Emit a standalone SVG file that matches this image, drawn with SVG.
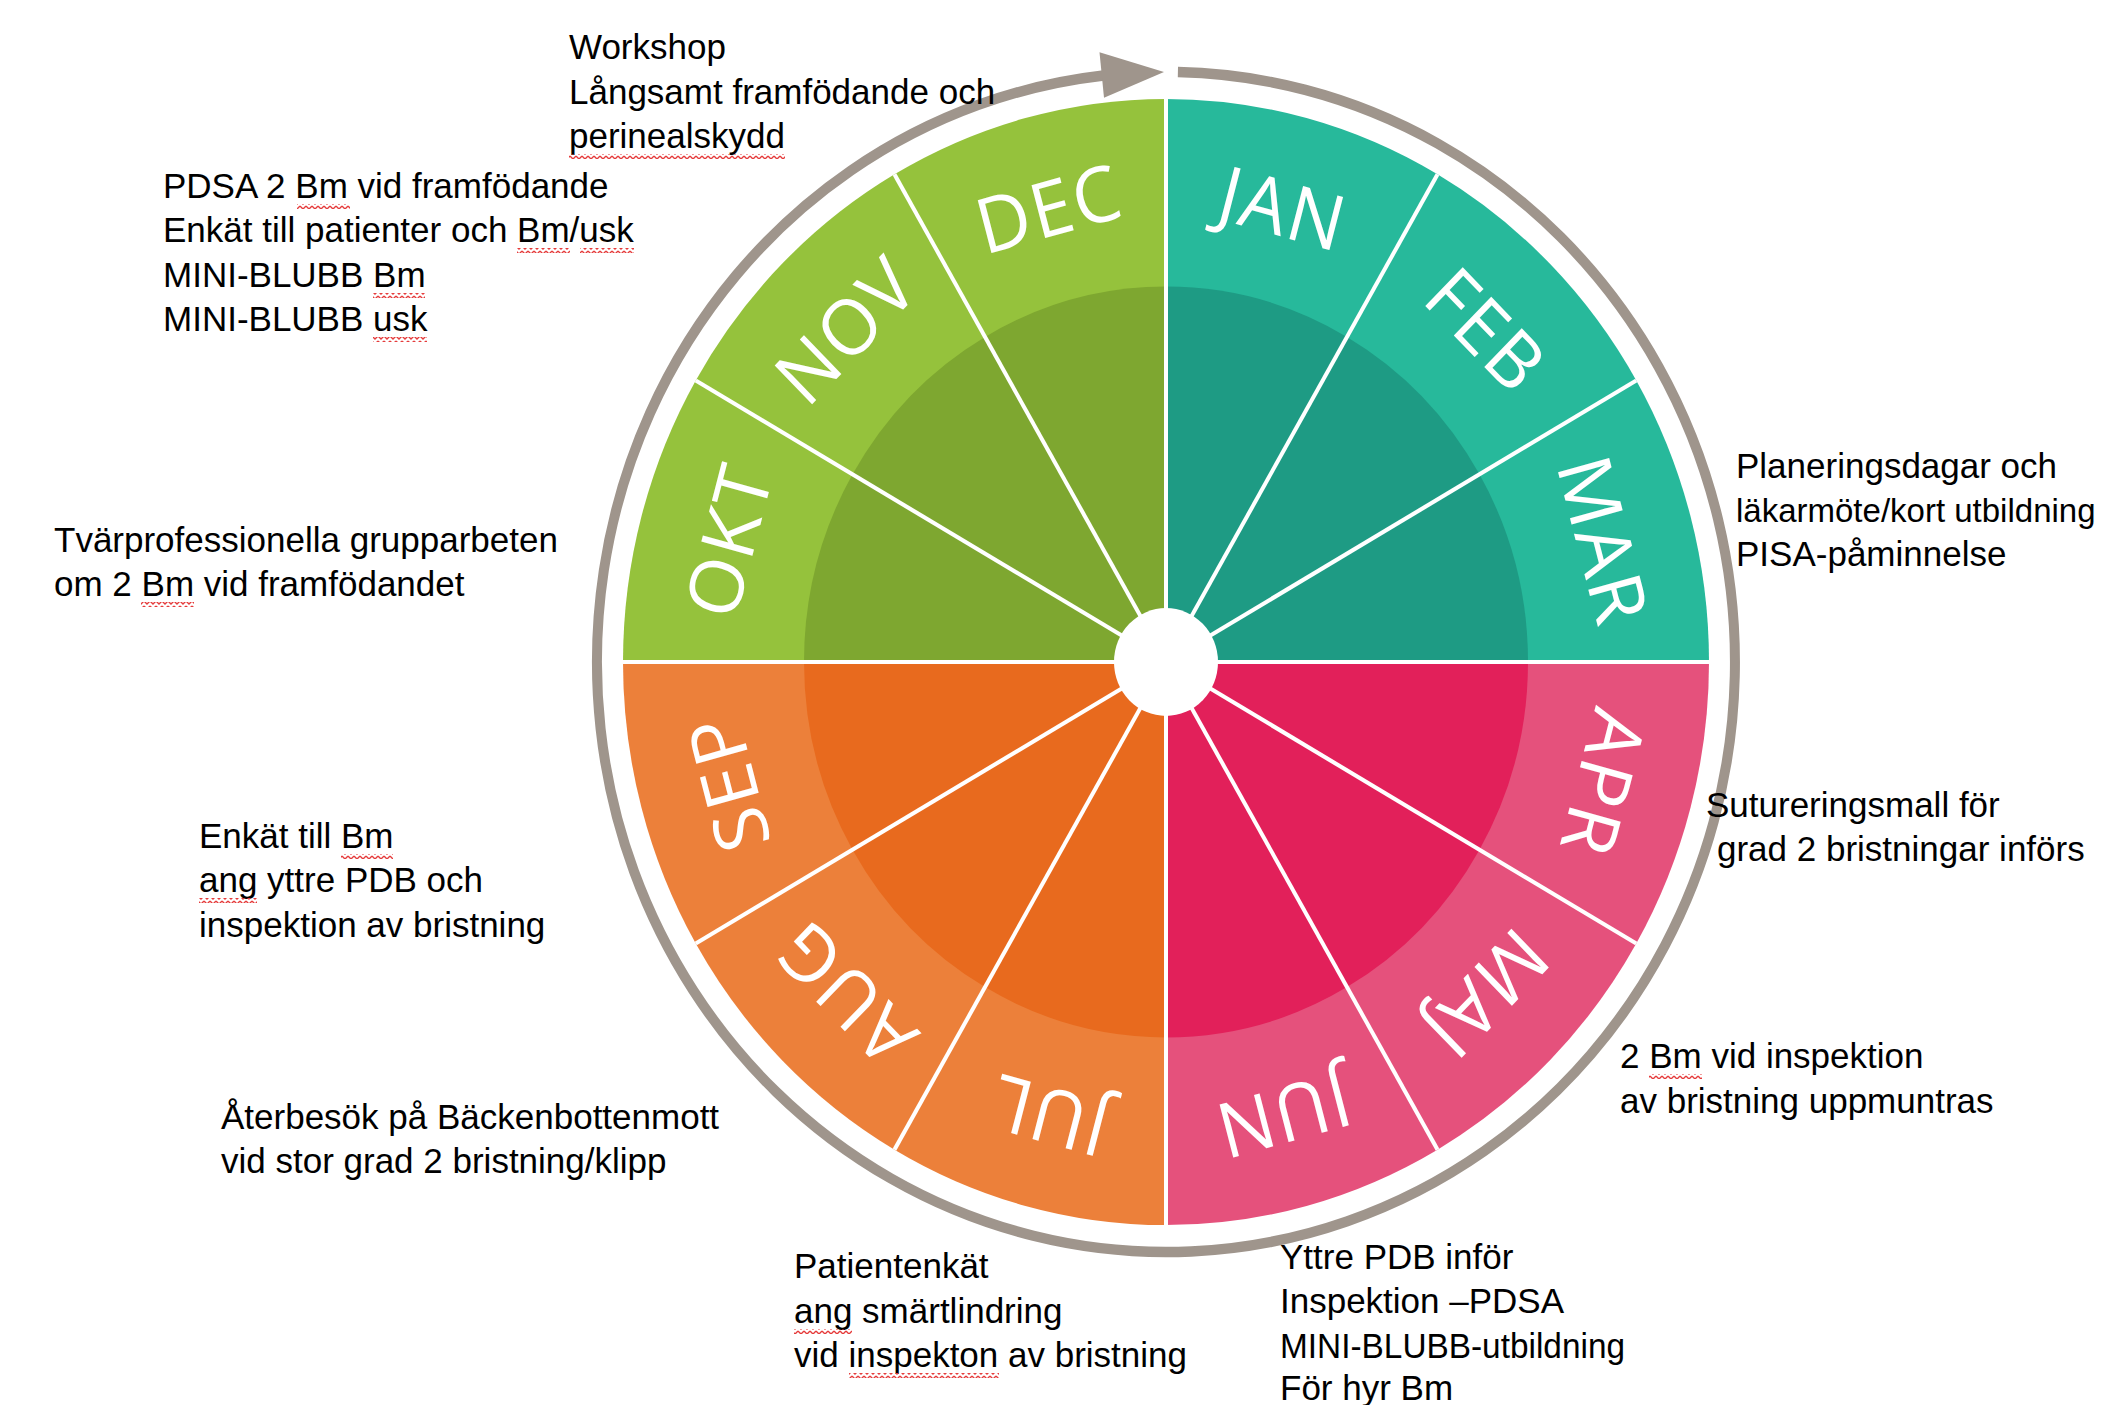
<svg xmlns="http://www.w3.org/2000/svg" width="2110" height="1405" viewBox="0 0 2110 1405">
<style>
.t{font-family:"Liberation Sans",Arial,sans-serif;font-size:35px;fill:#000}
.m{font-family:"Open Sans","Liberation Sans",sans-serif;font-size:74px;fill:#fff;text-anchor:middle;letter-spacing:2px}
.g1{fill:#95c23c}.g2{fill:#7ea730}
.t1{fill:#27b99b}.t2{fill:#1e9b84}
.p1{fill:#e5517c}.p2{fill:#e2205a}
.o1{fill:#ec803a}.o2{fill:#e86a1e}
.div{stroke:#fff;stroke-width:4;fill:none}
.ring{fill:none;stroke:#9f958c;stroke-width:10}
.sq{fill:url(#wavy)}
</style>
<defs>
<pattern id="wavy" width="6" height="5" patternUnits="userSpaceOnUse"><path d="M0,1 L3,4 L6,1" fill="none" stroke="#e53b3b" stroke-width="1.3"/></pattern>
</defs>
<rect width="2110" height="1405" fill="#fff"/>
<g id="wheel" transform="translate(1166,662) scale(1,1.037)">
<g id="jan"><path class="t1" d="M0,0 L0,-543 A543,543 0 0 1 271.5,-470.25 Z"/><path class="t2" d="M0,0 L0,-362 A362,362 0 0 1 181,-313.5 Z"/></g>
<g id="feb"><path class="t1" d="M0,0 L271.5,-470.25 A543,543 0 0 1 470.25,-271.5 Z"/><path class="t2" d="M0,0 L181,-313.5 A362,362 0 0 1 313.5,-181 Z"/></g>
<g id="mar"><path class="t1" d="M0,0 L470.25,-271.5 A543,543 0 0 1 543,0 Z"/><path class="t2" d="M0,0 L313.5,-181 A362,362 0 0 1 362,0 Z"/></g>
<g id="apr"><path class="p1" d="M0,0 L543,0 A543,543 0 0 1 470.25,271.5 Z"/><path class="p2" d="M0,0 L362,0 A362,362 0 0 1 313.5,181 Z"/></g>
<g id="maj"><path class="p1" d="M0,0 L470.25,271.5 A543,543 0 0 1 271.5,470.25 Z"/><path class="p2" d="M0,0 L313.5,181 A362,362 0 0 1 181,313.5 Z"/></g>
<g id="jun"><path class="p1" d="M0,0 L271.5,470.25 A543,543 0 0 1 0,543 Z"/><path class="p2" d="M0,0 L181,313.5 A362,362 0 0 1 0,362 Z"/></g>
<g id="jul"><path class="o1" d="M0,0 L0,543 A543,543 0 0 1 -271.5,470.25 Z"/><path class="o2" d="M0,0 L0,362 A362,362 0 0 1 -181,313.5 Z"/></g>
<g id="aug"><path class="o1" d="M0,0 L-271.5,470.25 A543,543 0 0 1 -470.25,271.5 Z"/><path class="o2" d="M0,0 L-181,313.5 A362,362 0 0 1 -313.5,181 Z"/></g>
<g id="sep"><path class="o1" d="M0,0 L-470.25,271.5 A543,543 0 0 1 -543,0 Z"/><path class="o2" d="M0,0 L-313.5,181 A362,362 0 0 1 -362,0 Z"/></g>
<g id="okt"><path class="g1" d="M0,0 L-543,0 A543,543 0 0 1 -470.25,-271.5 Z"/><path class="g2" d="M0,0 L-362,0 A362,362 0 0 1 -313.5,-181 Z"/></g>
<g id="nov"><path class="g1" d="M0,0 L-470.25,-271.5 A543,543 0 0 1 -271.5,-470.25 Z"/><path class="g2" d="M0,0 L-313.5,-181 A362,362 0 0 1 -181,-313.5 Z"/></g>
<g id="dec"><path class="g1" d="M0,0 L-271.5,-470.25 A543,543 0 0 1 0,-543 Z"/><path class="g2" d="M0,0 L-181,-313.5 A362,362 0 0 1 0,-362 Z"/></g>
<g id="dividers" class="div">
<line x1="0" y1="0" x2="0" y2="-543"/><line x1="0" y1="0" x2="271.5" y2="-470.25"/><line x1="0" y1="0" x2="470.25" y2="-271.5"/>
<line x1="0" y1="0" x2="543" y2="0"/><line x1="0" y1="0" x2="470.25" y2="271.5"/><line x1="0" y1="0" x2="271.5" y2="470.25"/>
<line x1="0" y1="0" x2="0" y2="543"/><line x1="0" y1="0" x2="-271.5" y2="470.25"/><line x1="0" y1="0" x2="-470.25" y2="271.5"/>
<line x1="0" y1="0" x2="-543" y2="0"/><line x1="0" y1="0" x2="-470.25" y2="-271.5"/><line x1="0" y1="0" x2="-271.5" y2="-470.25"/>
</g>
<circle id="hub" r="52" fill="#fff"/>
<g id="month-labels">
<text class="m" dy="0.35em" transform="rotate(15) translate(0,-452)">JAN</text>
<text class="m" dy="0.35em" transform="rotate(45) translate(0,-452)">FEB</text>
<text class="m" dy="0.35em" transform="rotate(75) translate(0,-452)">MAR</text>
<text class="m" dy="0.35em" transform="rotate(105) translate(0,-452)">APR</text>
<text class="m" dy="0.35em" transform="rotate(135) translate(0,-452)">MAJ</text>
<text class="m" dy="0.35em" transform="rotate(165) translate(0,-452)">JUN</text>
<text class="m" dy="0.35em" transform="rotate(195) translate(0,-452)">JUL</text>
<text class="m" dy="0.35em" transform="rotate(225) translate(0,-452)">AUG</text>
<text class="m" dy="0.35em" transform="rotate(255) translate(0,-452)">SEP</text>
<text class="m" dy="0.35em" transform="rotate(285) translate(0,-452)">OKT</text>
<text class="m" dy="0.35em" transform="rotate(315) translate(0,-452)">NOV</text>
<text class="m" dy="0.35em" transform="rotate(345) translate(0,-452)">DEC</text>
</g>
<g id="connectors">
<path class="ring" d="M11.9,-568.9 A569,569 0 1 1 -62.4,-565.6"/>
<polygon fill="#9f958c" points="-2,-569 -62,-544 -66.5,-588"/>
</g>
</g>
<g id="note-dec">
<text class="t" x="569" y="59">Workshop</text>
<text class="t" x="569" y="104">Långsamt framfödande och</text>
<text class="t" x="569" y="148">perinealskydd</text>
<rect class="sq" x="569" y="154" width="216" height="5"/>
</g>
<g id="note-nov">
<text class="t" x="163" y="198">PDSA 2 Bm vid framfödande</text>
<text class="t" x="163" y="242">Enkät till patienter och Bm/usk</text>
<text class="t" x="163" y="287">MINI-BLUBB Bm</text>
<text class="t" x="163" y="331">MINI-BLUBB usk</text>
<rect class="sq" x="297" y="204" width="53" height="5"/>
<rect class="sq" x="517" y="248" width="53" height="5"/>
<rect class="sq" x="580" y="248" width="54" height="5"/>
<rect class="sq" x="373" y="293" width="52" height="5"/>
<rect class="sq" x="373" y="337" width="54" height="5"/>
</g>
<g id="note-okt">
<text class="t" x="54" y="552">Tvärprofessionella grupparbeten</text>
<text class="t" x="54" y="596">om 2 Bm vid framfödandet</text>
<rect class="sq" x="141" y="602" width="53" height="5"/>
</g>
<g id="note-mar">
<text class="t" x="1736" y="478">Planeringsdagar och</text>
<text class="t" x="1736" y="522" style="font-size:33px">läkarmöte/kort utbildning</text>
<text class="t" x="1736" y="566">PISA-påminnelse</text>
</g>
<g id="note-apr">
<text class="t" x="1706" y="817">Sutureringsmall för</text>
<text class="t" x="1717" y="861">grad 2 bristningar införs</text>
</g>
<g id="note-sep">
<text class="t" x="199" y="848">Enkät till Bm</text>
<text class="t" x="199" y="892">ang yttre PDB och</text>
<text class="t" x="199" y="937">inspektion av bristning</text>
<rect class="sq" x="341" y="854" width="52" height="5"/>
<rect class="sq" x="199" y="898" width="58" height="5"/>
</g>
<g id="note-maj">
<text class="t" x="1620" y="1068">2 Bm vid inspektion</text>
<text class="t" x="1620" y="1113">av bristning uppmuntras</text>
<rect class="sq" x="1649" y="1074" width="53" height="5"/>
</g>
<g id="note-aug">
<text class="t" x="221" y="1129">Återbesök på Bäckenbottenmott</text>
<text class="t" x="221" y="1173">vid stor grad 2 bristning/klipp</text>
</g>
<g id="note-jul">
<text class="t" x="794" y="1278">Patientenkät</text>
<text class="t" x="794" y="1323">ang smärtlindring</text>
<text class="t" x="794" y="1367">vid inspekton av bristning</text>
<rect class="sq" x="794" y="1329" width="58" height="5"/>
<rect class="sq" x="849" y="1373" width="150" height="5"/>
</g>
<g id="note-jun">
<text class="t" x="1280" y="1269">Yttre PDB inför</text>
<text class="t" x="1280" y="1313">Inspektion –PDSA</text>
<text class="t" x="1280" y="1358" textLength="345" lengthAdjust="spacingAndGlyphs">MINI-BLUBB-utbildning</text>
<text class="t" x="1280" y="1400">För hyr Bm</text>
</g>
</svg>
